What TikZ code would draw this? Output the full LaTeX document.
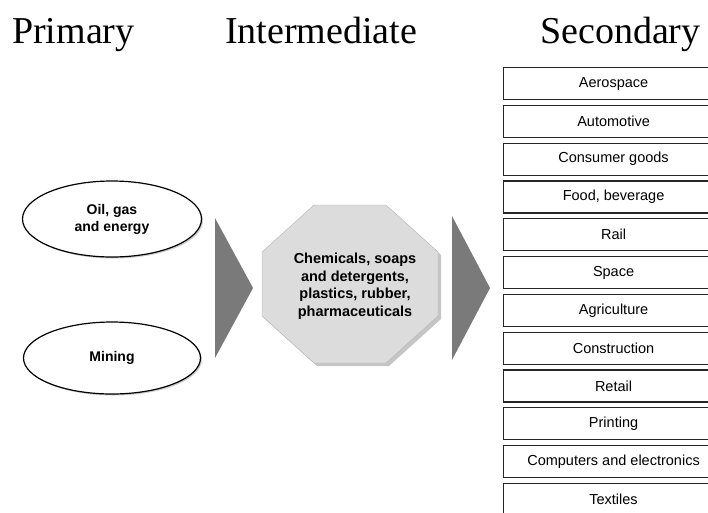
\documentclass[tikz,border=0pt]{standalone}
\usepackage{fontspec}
\setmainfont{Liberation Serif}
\setsansfont{Liberation Sans}
\usepackage{tikz}
\usetikzlibrary{shapes.geometric, shadows, positioning}
\definecolor{arrowgray}{HTML}{7A7A7A}
\definecolor{octofill}{HTML}{DCDCDC}
\definecolor{octoline}{HTML}{B4B4B4}
\tikzset{
    heading/.style={anchor=base west, inner sep=0pt, font=\fontsize{38}{40}\selectfont},
    source/.style={ellipse, draw=black, line width=1.2pt, fill=white, minimum width=179pt, minimum height=76pt, align=center, font=\sffamily\bfseries\fontsize{14}{17}\selectfont, drop shadow={shadow xshift=1.5pt, shadow yshift=-1.5pt, fill=black!40}},
    octo/.style={draw=octoline, fill=octofill, drop shadow={shadow xshift=3pt, shadow yshift=-3pt, fill=black!45}},
    sector/.style={rectangle, draw=black!85, line width=1.1pt, fill=white, minimum width=220pt, minimum height=32pt, text centered, font=\sffamily\fontsize{14.5}{17}\selectfont},
    flowarrow/.style={fill=arrowgray}
}

\begin{document}
\begin{tikzpicture}[x=1pt, y=1pt, node distance=4.7pt]
    \useasboundingbox (0,0) rectangle (708,-512);
    % Headings
    \node (primary) [heading] at (12,-43) {Primary};
    \node (intermediate) [heading] at (225,-43) {Intermediate};
    \node (secondary) [heading] at (540,-43) {Secondary};
    % Primary industries
    \node (oil) [source] at (112,-219) {Oil, gas\\ and energy};
    \node (mining) [source, minimum width=177pt, minimum height=72pt] at (112,-358) {Mining};
    % Big arrows
    \fill [flowarrow] (215,-218) -- (253,-288) -- (215,-358) -- cycle;
    \fill [flowarrow] (452,-216) -- (490,-288) -- (452,-360) -- cycle;
    % Intermediate
    \filldraw [octo] (314,-205) -- (386,-205) -- (438,-252) -- (438,-316)
        -- (386,-363) -- (314,-363) -- (262,-316) -- (262,-252) -- cycle;
    \node (chem) [align=center, font=\sffamily\bfseries\fontsize{14.5}{17.5}\selectfont] at (355,-286) {Chemicals, soaps\\ and detergents,\\ plastics, rubber,\\ pharmaceuticals};
    % Secondary industries
    \node (aero) [sector, anchor=north west] at (503,-67) {Aerospace};
    \node (auto) [sector, below=of aero] {Automotive};
    \node (consumer) [sector, below=of auto] {Consumer goods};
    \node (food) [sector, below=of consumer] {Food, beverage};
    \node (rail) [sector, below=of food] {Rail};
    \node (space) [sector, below=of rail] {Space};
    \node (agri) [sector, below=of space] {Agriculture};
    \node (constr) [sector, below=of agri] {Construction};
    \node (retail) [sector, below=of constr] {Retail};
    \node (print) [sector, below=of retail] {Printing};
    \node (comp) [sector, below=of print] {Computers and electronics};
    \node (textiles) [sector, below=of comp] {Textiles};
\end{tikzpicture}
\end{document}
